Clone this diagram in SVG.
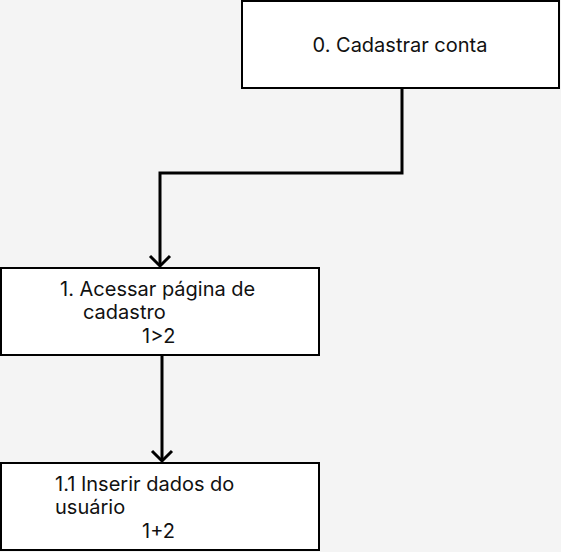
<svg xmlns="http://www.w3.org/2000/svg" width="561" height="552" viewBox="0 0 561 552">
<style>
.box{fill:#ffffff;stroke:#000000;stroke-width:2}
.t{font-family:Inter,"Liberation Sans",sans-serif;font-size:20px;fill:#111111}
.c{fill:none;stroke:#000000;stroke-width:3}
.ah{fill:none;stroke:#000000;stroke-width:3}
</style>
<rect x="0" y="0" width="561" height="552" fill="#f4f4f4"/>
<g id="connectors">
<polyline class="c" points="402,88 402,173 160,173 160,266"/>
<polyline class="ah" points="150,256 160,266 170,256"/>
<line class="c" x1="162" y1="356" x2="162" y2="461"/>
<polyline class="ah" points="152,451 162,461 172,451"/>
</g>
<g id="node0">
<rect class="box" x="242" y="1" width="317" height="87"/>
<text class="t" x="400" y="52" text-anchor="middle">0. Cadastrar conta</text>
</g>
<g id="node1">
<rect class="box" x="1" y="268" width="318" height="87"/>
<text class="t" x="60" y="296">1. Acessar página de</text>
<text class="t" x="83" y="319">cadastro</text>
<text class="t" x="142" y="343">1&gt;2</text>
</g>
<g id="node2">
<rect class="box" x="1" y="463" width="318" height="87"/>
<text class="t" x="55" y="491">1.1 Inserir dados do</text>
<text class="t" x="55" y="514">usuário</text>
<text class="t" x="142" y="538">1+2</text>
</g>
</svg>
